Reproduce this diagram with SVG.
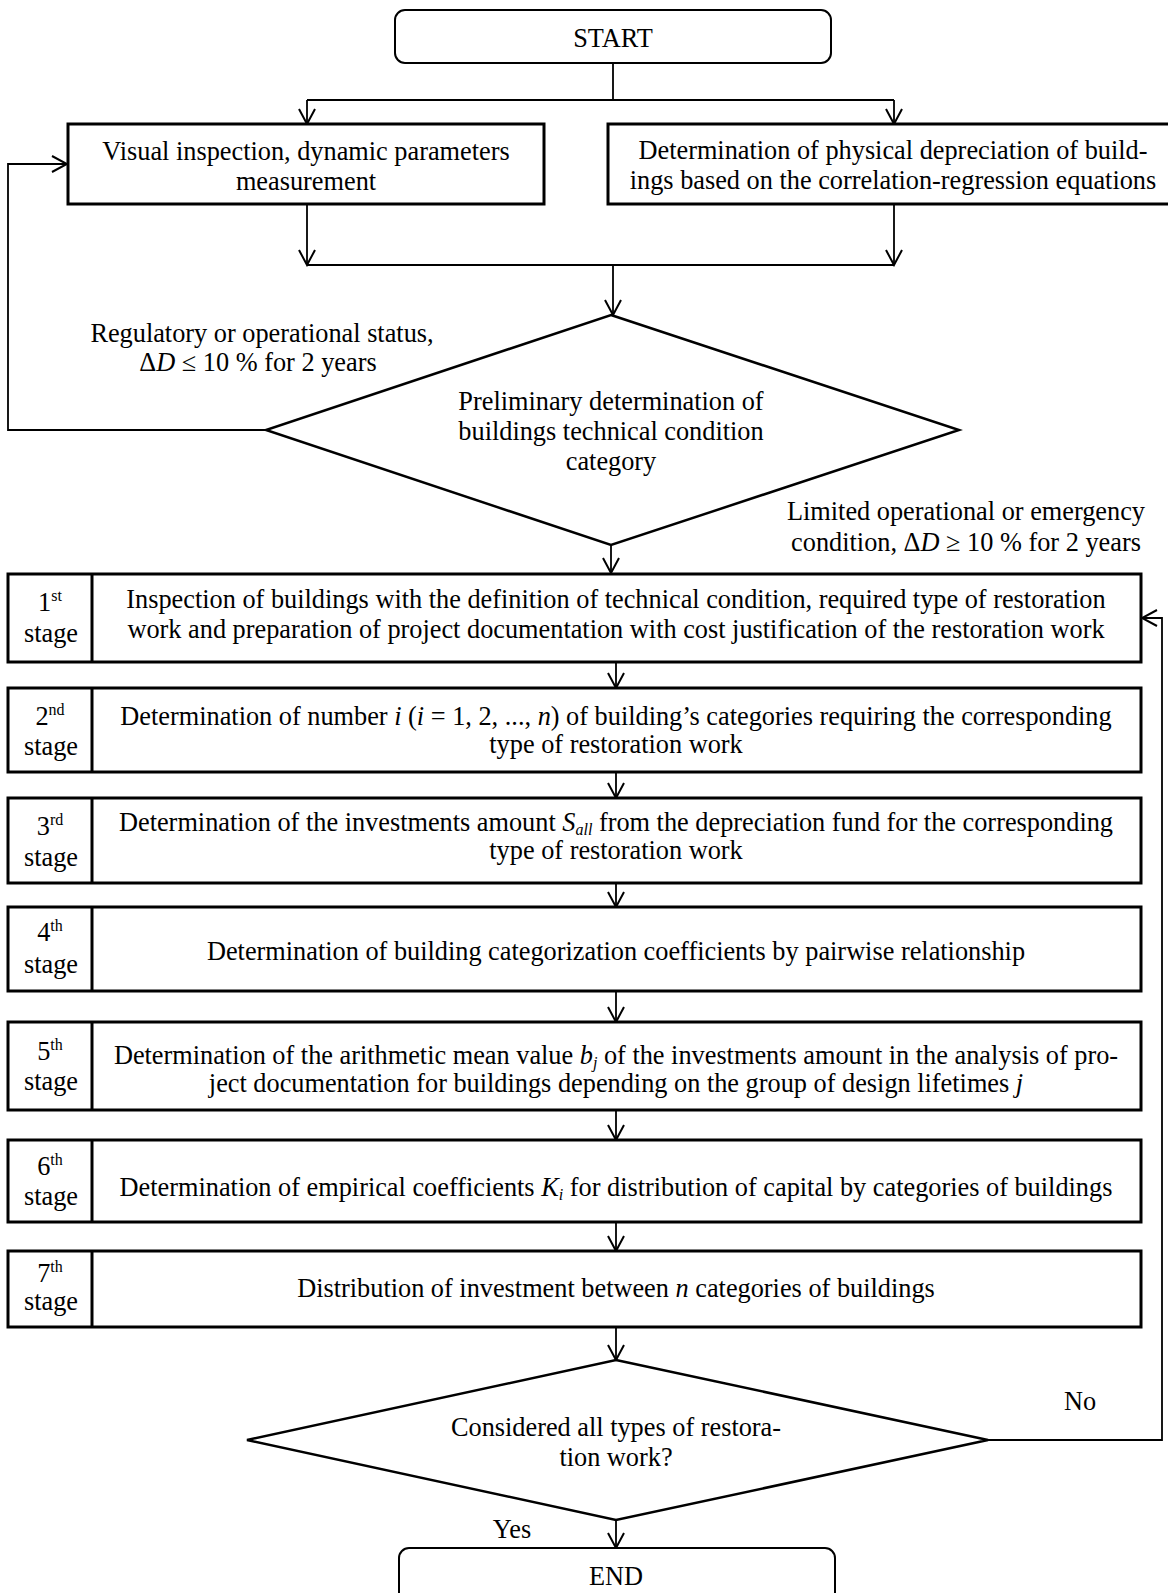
<svg xmlns="http://www.w3.org/2000/svg" width="1168" height="1593" viewBox="0 0 1168 1593" font-family="Liberation Serif, DejaVu Serif, serif">
<defs>
<marker id="arr" markerUnits="userSpaceOnUse" markerWidth="18" markerHeight="18" viewBox="0 0 18 18" refX="16" refY="9" orient="auto">
<path d="M1,1 L16,9 L1,17" fill="none" stroke="#000" stroke-width="2"/>
</marker>
</defs>
<style>
text{font-family:'Liberation Serif','DejaVu Serif',serif;font-size:26.3px;fill:#000;text-anchor:middle}
.it{font-style:italic}
.sup{font-size:16px}
.box{fill:#fff;stroke:#000;stroke-width:3}
.rbox{fill:#fff;stroke:#000;stroke-width:2}
.dia{fill:#fff;stroke:#000;stroke-width:2.5}
.con{fill:none;stroke:#000;stroke-width:1.8}
</style>
<rect width="1168" height="1593" fill="#fff"/>
<g id="connectors">
<path class="con" d="M613,63 V100 M307,100 H894"/>
<path class="con" d="M307,100 V124" marker-end="url(#arr)"/>
<path class="con" d="M894,100 V124" marker-end="url(#arr)"/>
<path class="con" d="M307,204 V265" marker-end="url(#arr)"/>
<path class="con" d="M894,204 V265" marker-end="url(#arr)"/>
<path class="con" d="M307,265 H894"/>
<path class="con" d="M613,265 V315" marker-end="url(#arr)"/>
<path class="con" d="M266,430 H8 V164 H67" marker-end="url(#arr)"/>
<path class="con" d="M611,545 V573" marker-end="url(#arr)"/>
<path class="con" d="M616,662 V688" marker-end="url(#arr)"/>
<path class="con" d="M616,772 V798" marker-end="url(#arr)"/>
<path class="con" d="M616,883 V907" marker-end="url(#arr)"/>
<path class="con" d="M616,991 V1022" marker-end="url(#arr)"/>
<path class="con" d="M616,1110 V1140" marker-end="url(#arr)"/>
<path class="con" d="M616,1222 V1251" marker-end="url(#arr)"/>
<path class="con" d="M616,1327 V1360" marker-end="url(#arr)"/>
<path class="con" d="M988,1440 H1162 V618 H1142" marker-end="url(#arr)"/>
<path class="con" d="M616,1520 V1548" marker-end="url(#arr)"/>
</g>
<g id="start">
<rect class="rbox" x="395" y="10" width="436" height="53" rx="10"/>
<text x="613" y="47">START</text>
</g>
<g id="visual">
<rect class="box" x="68" y="124" width="476" height="80"/>
<text x="306" y="160">Visual inspection, dynamic parameters</text>
<text x="306" y="190">measurement</text>
</g>
<g id="depreciation">
<rect class="box" x="608" y="124" width="564" height="80"/>
<text x="893" y="159">Determination of physical depreciation of build-</text>
<text x="893" y="189">ings based on the correlation-regression equations</text>
</g>
<g id="decision1">
<polygon class="dia" points="611,315 959,430 611,545 266,430"/>
<text x="611" y="410">Preliminary determination of</text>
<text x="611" y="440">buildings technical condition</text>
<text x="611" y="470">category</text>
</g>
<g id="label-regulatory">
<text x="262" y="342">Regulatory or operational status,</text>
<text x="258" y="371">Δ<tspan class="it">D</tspan> ≤ 10 % for 2 years</text>
</g>
<g id="label-limited">
<text x="966" y="520">Limited operational or emergency</text>
<text x="966" y="551">condition, Δ<tspan class="it">D</tspan> ≥ 10 % for 2 years</text>
</g>
<g id="stage1">
<rect class="box" x="8" y="574" width="1133" height="88"/>
<line x1="92" y1="574" x2="92" y2="662" stroke="#000" stroke-width="3"/>
<text x="50" y="611">1<tspan class="sup" dy="-10">st</tspan></text>
<text x="51" y="642">stage</text>
<text x="616" y="608">Inspection of buildings with the definition of technical condition, required type of restoration</text>
<text x="616" y="638">work and preparation of project documentation with cost justification of the restoration work</text>
</g>
<g id="stage2">
<rect class="box" x="8" y="688" width="1133" height="84"/>
<line x1="92" y1="688" x2="92" y2="772" stroke="#000" stroke-width="3"/>
<text x="50" y="725">2<tspan class="sup" dy="-10">nd</tspan></text>
<text x="51" y="755">stage</text>
<text x="616" y="725">Determination of number <tspan class="it">i</tspan> (<tspan class="it">i</tspan> = 1, 2, ..., <tspan class="it">n</tspan>) of building’s categories requiring the corresponding</text>
<text x="616" y="753">type of restoration work</text>
</g>
<g id="stage3">
<rect class="box" x="8" y="798" width="1133" height="85"/>
<line x1="92" y1="798" x2="92" y2="883" stroke="#000" stroke-width="3"/>
<text x="50" y="835">3<tspan class="sup" dy="-10">rd</tspan></text>
<text x="51" y="866">stage</text>
<text x="616" y="831">Determination of the investments amount <tspan class="it">S</tspan><tspan class="it sup" dy="4">all</tspan><tspan dy="-4"> from the depreciation fund for the corresponding</tspan></text>
<text x="616" y="859">type of restoration work</text>
</g>
<g id="stage4">
<rect class="box" x="8" y="907" width="1133" height="84"/>
<line x1="92" y1="907" x2="92" y2="991" stroke="#000" stroke-width="3"/>
<text x="50" y="941">4<tspan class="sup" dy="-10">th</tspan></text>
<text x="51" y="973">stage</text>
<text x="616" y="960">Determination of building categorization coefficients by pairwise relationship</text>
</g>
<g id="stage5">
<rect class="box" x="8" y="1022" width="1133" height="88"/>
<line x1="92" y1="1022" x2="92" y2="1110" stroke="#000" stroke-width="3"/>
<text x="50" y="1060">5<tspan class="sup" dy="-10">th</tspan></text>
<text x="51" y="1090">stage</text>
<text x="616" y="1064">Determination of the arithmetic mean value <tspan class="it">b</tspan><tspan class="it sup" dy="4">j</tspan><tspan dy="-4"> of the investments amount in the analysis of pro-</tspan></text>
<text x="616" y="1092">ject documentation for buildings depending on the group of design lifetimes <tspan class="it">j</tspan></text>
</g>
<g id="stage6">
<rect class="box" x="8" y="1140" width="1133" height="82"/>
<line x1="92" y1="1140" x2="92" y2="1222" stroke="#000" stroke-width="3"/>
<text x="50" y="1175">6<tspan class="sup" dy="-10">th</tspan></text>
<text x="51" y="1205">stage</text>
<text x="616" y="1196">Determination of empirical coefficients <tspan class="it">K</tspan><tspan class="it sup" dy="4">i</tspan><tspan dy="-4"> for distribution of capital by categories of buildings</tspan></text>
</g>
<g id="stage7">
<rect class="box" x="8" y="1251" width="1133" height="76"/>
<line x1="92" y1="1251" x2="92" y2="1327" stroke="#000" stroke-width="3"/>
<text x="50" y="1282">7<tspan class="sup" dy="-10">th</tspan></text>
<text x="51" y="1310">stage</text>
<text x="616" y="1297">Distribution of investment between <tspan class="it">n</tspan> categories of buildings</text>
</g>
<g id="decision2">
<polygon class="dia" points="616,1360 988,1440 616,1520 247,1440"/>
<text x="616" y="1436">Considered all types of restora-</text>
<text x="616" y="1466">tion work?</text>
</g>
<g id="label-no"><text x="1080" y="1410">No</text></g>
<g id="label-yes"><text x="512" y="1538">Yes</text></g>
<g id="end">
<rect class="rbox" x="399" y="1548" width="436" height="60" rx="10"/>
<text x="616" y="1585">END</text>
</g>
</svg>
